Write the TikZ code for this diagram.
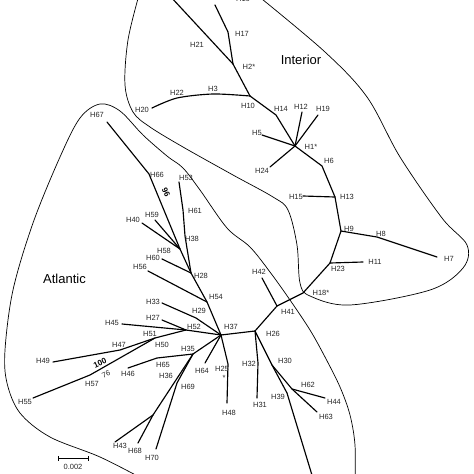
\documentclass[tikz,border=0pt]{standalone}
\usepackage{fontspec}
\setmainfont{Liberation Sans}
\begin{document}
\begin{tikzpicture}[x=1pt,y=-1pt,
  branch/.style={line width=1.15pt,line cap=round,line join=round},
  outline/.style={line width=0.7pt},
  lbl/.style={font=\fontsize{7.5}{8}\selectfont,inner sep=0pt,text=black!85},
  boot/.style={font=\bfseries\fontsize{8}{8}\selectfont,inner sep=0pt},
  region/.style={font=\fontsize{13}{13}\selectfont,inner sep=0pt}]
\useasboundingbox (0,0) rectangle (474,474);
\clip (0,0) rectangle (474,474);
% ---------- outlines ----------
\draw[outline] plot[smooth,tension=0.55] coordinates {(139,-5) (128,40) (125,85) (133,112) (150,127) (183,147) (233,175) (273,197) (288,210) (297,245) (300,283) (310,296) (350,305) (430,290) (463,268) (467,245) (442,218) (400,157) (367,97) (325,52) (257,-5)};
\draw[outline] plot[smooth,tension=0.55] coordinates {(145,480) (100,457) (50,437) (20,413) (7,383) (5,350) (13,290) (33,223) (60,157) (80,118) (100,104) (120,111) (143,135) (167,156) (183,168) (200,190) (227,228) (250,247) (270,272) (290,300) (310,330) (325,357) (340,387) (350,415) (355,445) (355,480)};
% ---------- coordinates ----------
\coordinate (top) at (170,-4);
\coordinate (h2) at (233,64);
\coordinate (h17e) at (215,5);
\coordinate (h17) at (228,32);
\coordinate (h10) at (250,96);
\coordinate (h3) at (213,94);
\coordinate (h22) at (177,98);
\coordinate (h20) at (152,108);
\coordinate (h14) at (276,115);
\coordinate (h1) at (295,146);
\coordinate (h12) at (302,112);
\coordinate (h19) at (318,115);
\coordinate (h5) at (262,135);
\coordinate (h24) at (270,167);
\coordinate (h6) at (322,166);
\coordinate (h13) at (335,197);
\coordinate (h15) at (303,196);
\coordinate (h9) at (341,231);
\coordinate (h8) at (377,237);
\coordinate (h7) at (437,257);
\coordinate (h23) at (330,263);
\coordinate (h11) at (363,262);
\coordinate (h18) at (303,293);
\coordinate (h41) at (277,306);
\coordinate (h42) at (262,278);
\coordinate (h26) at (255,331);
\coordinate (h37) at (221,335);
\coordinate (h29) at (196,318);
\coordinate (h33) at (162,303);
\coordinate (h54) at (207,302);
\coordinate (h56) at (148,271);
\coordinate (h28) at (191,273);
\coordinate (h60) at (162,259);
\coordinate (h58) at (180,249);
\coordinate (h38) at (185,236);
\coordinate (h61) at (183,210);
\coordinate (h53) at (179,182);
\coordinate (h59) at (155,220);
\coordinate (h40) at (142,223);
\coordinate (h66) at (149,174);
\coordinate (h67) at (107,122);
\coordinate (h52) at (186,330);
\coordinate (h27) at (162,320);
\coordinate (h45) at (122,324);
\coordinate (h51) at (155,338);
\coordinate (h47) at (120,350);
\coordinate (h49) at (53,362);
\coordinate (h57) at (90,375);
\coordinate (h55) at (33,398);
\coordinate (h35) at (193,354);
\coordinate (h65) at (157,358);
\coordinate (h46) at (128,368);
\coordinate (h36) at (153,415);
\coordinate (h43) at (115,442);
\coordinate (h68) at (138,443);
\coordinate (h69) at (177,383);
\coordinate (h70) at (156,449);
\coordinate (h64) at (205,363);
\coordinate (h25) at (228,364);
\coordinate (h48) at (227,403);
\coordinate (h32) at (258,363);
\coordinate (h31) at (257,398);
\coordinate (h30) at (272,365);
\coordinate (h62) at (292,389);
\coordinate (h44) at (325,398);
\coordinate (h63) at (317,412);
\coordinate (h39) at (287,393);
\coordinate (h39e) at (315,485);
% ---------- branches ----------
\draw[branch] (top) -- (h2) -- (h10);
\draw[branch] (h17e) -- (h17) -- (h2);
\draw[branch] plot[smooth,tension=0.5] coordinates {(h10) (h3) (h22) (h20)};
\draw[branch] (h10) -- (h14) -- (h1);
\draw[branch] (h1) -- (h12);
\draw[branch] (h1) -- (h19);
\draw[branch] (h1) -- (h5);
\draw[branch] (h1) -- (h24);
\draw[branch] (h1) -- (h6) -- (h13) -- (h9);
\draw[branch] (h13) -- (h15);
\draw[branch] (h9) -- (h8) -- (h7);
\draw[branch] (h9) -- (h23) -- (h18) -- (h41) -- (h26) -- (h37);
\draw[branch] (h23) -- (h11);
\draw[branch] (h41) -- (h42);
\draw[branch] (h26) -- (h32) -- (h31);
\draw[branch] (h26) -- (h30) -- (h39) -- (h39e);
\draw[branch] (h30) -- (h62) -- (h44);
\draw[branch] (h62) -- (h63);
\draw[branch] (h37) -- (h29) -- (h33);
\draw[branch] (h37) -- (h54) -- (h28) -- (h58) -- (h66) -- (h67);
\draw[branch] (h54) -- (h56);
\draw[branch] (h28) -- (h60);
\draw[branch] (h28) -- (h38) -- (h61) -- (h53);
\draw[branch] (h58) -- (h59);
\draw[branch] (h58) -- (h40);
\draw[branch] (h37) -- (h52) -- (h27);
\draw[branch] (h52) -- (h45);
\draw[branch] (h52) -- (h51) -- (h47) -- (h49);
\draw[branch] (h51) -- (h57) -- (h55);
\draw[branch] (h37) -- (h35) -- (h65) -- (h46);
\draw[branch] (h35) -- (h36) -- (h43);
\draw[branch] (h36) -- (h68);
\draw[branch] (h35) -- (h69) -- (h70);
\draw[branch] (h37) -- (h64);
\draw[branch] (h37) -- (h25) -- (h48);
% ---------- scale bar ----------
\coordinate (sb1) at (58,458);
\coordinate (sb2) at (88,458);
\draw[line width=0.9pt] (sb1) -- (sb2);
\draw[line width=0.9pt] ([yshift=-2.5pt]sb1) -- ([yshift=2.5pt]sb1);
\draw[line width=0.9pt] ([yshift=-2.5pt]sb2) -- ([yshift=2.5pt]sb2);
\node[lbl] (lsb) at (73,467) {0.002};
% ---------- labels ----------
\node[region] (lint) at (301,60) {Interior};
\node[region] (latl) at (64.5,279) {Atlantic};
\node[lbl] (l16) at (243,-1) {H16};
\node[lbl] (l17) at (242,34) {H17};
\node[lbl] (l21) at (197,45) {H21};
\node[lbl] (l2) at (249,67) {H2*};
\node[lbl] (l10) at (248,106) {H10};
\node[lbl] (l3) at (213,89) {H3};
\node[lbl] (l22) at (177,93) {H22};
\node[lbl] (l20) at (142,110) {H20};
\node[lbl] (l14) at (281,109) {H14};
\node[lbl] (l12) at (301,107) {H12};
\node[lbl] (l19) at (323,109) {H19};
\node[lbl] (l5) at (257,133) {H5};
\node[lbl] (l1) at (311,147) {H1*};
\node[lbl] (l24) at (262,171) {H24};
\node[lbl] (l6) at (329,161) {H6};
\node[lbl,anchor=east] (l15) at (303,197) {H15};
\node[lbl] (l13) at (347,197) {H13};
\node[lbl] (l9) at (349,229) {H9};
\node[lbl] (l8) at (381,234) {H8};
\node[lbl] (l7) at (449,259) {H7};
\node[lbl] (l23) at (338,269) {H23};
\node[lbl] (l11) at (375,262) {H11};
\node[lbl] (l18) at (321,293) {H18*};
\node[lbl] (l42) at (259,272) {H42};
\node[lbl] (l41) at (288,312) {H41};
\node[lbl] (l26) at (273,334) {H26};
\node[lbl] (l37) at (231,327) {H37};
\node[lbl] (l29) at (199,311) {H29};
\node[lbl] (l33) at (153,302) {H33};
\node[lbl] (l54) at (216,297) {H54};
\node[lbl] (l56) at (140,267) {H56};
\node[lbl] (l28) at (201,276) {H28};
\node[lbl] (l60) at (153,258) {H60};
\node[lbl] (l58) at (164,251) {H58};
\node[lbl] (l38) at (192,239) {H38};
\node[lbl] (l61) at (195,211) {H61};
\node[lbl] (l53) at (186,178) {H53};
\node[lbl] (l59) at (152,215) {H59};
\node[lbl] (l40) at (133,220) {H40};
\node[lbl] (l66) at (157,175) {H66};
\node[boot,rotate=-65] (b96) at (166,192) {96};
\node[lbl] (l67) at (97,115) {H67};
\node[lbl] (l52) at (194,327) {H52};
\node[lbl] (l27) at (153,318) {H27};
\node[lbl] (l45) at (112,323) {H45};
\node[lbl] (l51) at (150,334) {H51};
\node[lbl] (l50) at (162,345) {H50};
\node[lbl] (l47) at (119,345) {H47};
\node[lbl] (l49) at (43,361) {H49};
\node[boot,rotate=25] (b100) at (100,363) {100};
\node[lbl,rotate=25] (b76) at (106,374) {76};
\node[lbl] (l57) at (92,384) {H57};
\node[lbl] (l55) at (25,402) {H55};
\node[lbl] (l35) at (188,349) {H35};
\node[lbl] (l46) at (128,374) {H46};
\node[lbl] (l65) at (163,365) {H65};
\node[lbl] (l36) at (166,376) {H36};
\node[lbl] (l69) at (188,387) {H69};
\node[lbl] (l43) at (120,446) {H43};
\node[lbl] (l68) at (135,451) {H68};
\node[lbl] (l70) at (152,458) {H70};
\node[lbl] (l64) at (202,371) {H64};
\node[lbl] (l25) at (222,369) {H25};
\node[lbl] (l25s) at (224,378) {*};
\node[lbl] (l48) at (229,413) {H48};
\node[lbl] (l32) at (249,364) {H32};
\node[lbl] (l31) at (260,405) {H31};
\node[lbl] (l30) at (285,361) {H30};
\node[lbl] (l62) at (308,385) {H62};
\node[lbl] (l44) at (334,402) {H44};
\node[lbl] (l63) at (326,417) {H63};
\node[lbl] (l39) at (278,397) {H39};
\end{tikzpicture}
\end{document}
